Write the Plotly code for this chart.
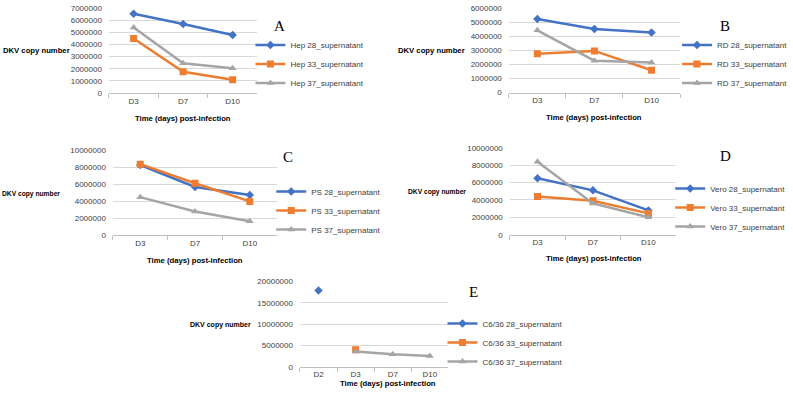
import plotly.graph_objects as go

W, H = 793, 402

# ---------------- data ----------------
days3 = ["D3", "D7", "D10"]
days4 = ["D2", "D3", "D7", "D10"]

hep28 = [6550000, 5700000, 4780000]
hep33 = [4500000, 1750000, 1100000]
hep37 = [5400000, 2450000, 2050000]

rd28 = [5250000, 4550000, 4300000]
rd33 = [2780000, 2980000, 1600000]
rd37 = [4450000, 2280000, 2150000]

ps28 = [8300000, 5700000, 4750000]
ps33 = [8400000, 6150000, 4000000]
ps37 = [4500000, 2800000, 1650000]

vero28 = [6500000, 5100000, 2800000]
vero33 = [4400000, 3900000, 2450000]
vero37 = [8400000, 3600000, 2000000]

c636_28 = [17900000, None, None, None]
c636_33 = [None, 4000000, None, None]
c636_37 = [None, 3600000, 2900000, 2500000]

panels = [
    dict(name="A", cats=days3, series=[("Hep 28_supernatant", hep28), ("Hep 33_supernatant", hep33), ("Hep 37_supernatant", hep37)],
         ymax=7000000, dtick=1000000),
    dict(name="B", cats=days3, series=[("RD 28_supernatant", rd28), ("RD 33_supernatant", rd33), ("RD 37_supernatant", rd37)],
         ymax=6000000, dtick=1000000),
    dict(name="C", cats=days3, series=[("PS 28_supernatant", ps28), ("PS 33_supernatant", ps33), ("PS 37_supernatant", ps37)],
         ymax=10000000, dtick=2000000),
    dict(name="D", cats=days3, series=[("Vero 28_supernatant", vero28), ("Vero 33_supernatant", vero33), ("Vero 37_supernatant", vero37)],
         ymax=10000000, dtick=2000000),
    dict(name="E", cats=days4, series=[("C6/36 28_supernatant", c636_28), ("C6/36 33_supernatant", c636_33), ("C6/36 37_supernatant", c636_37)],
         ymax=20000000, dtick=5000000),
]

# ---------------- layout geometry (pixels) ----------------
# plot boxes: left, right, top, bottom
boxes = [(110, 260, 4.3, 91), (514, 687, 4.7, 90.7), (114, 280, 150, 236.5), (515, 683, 147, 236), (303, 453, 284, 371)]
ylab = [(1, 48, 7.7), (400, 48, 7.7), (0, 194, 6.7), (410, 192, 6.7), (190, 328, 7.0)]
xtitle = [(185, 117), (600, 116), (197, 262), (600, 260), (392, 388)]
letters = [(282, 23), (732, 23), (291, 157), (733, 155), (478, 295)]
legpos = [(253, 27), (684, 27), (274, 177), (677, 174), (447, 312)]

colors = ["#4472C4", "#ED7D31", "#A5A5A5"]
symbols = ["diamond", "square", "triangle-up"]
msizes = [6.5, 7, 7]

FONT = "Liberation Sans, Arial, sans-serif"
SERIF = "Liberation Serif, Times New Roman, serif"

def px(x):
    return x / W

def py(y):
    return 1 - y / H

fig = go.Figure()
layout = dict(
    width=W, height=H, margin=dict(l=0, r=0, t=0, b=0),
    paper_bgcolor="white", plot_bgcolor="white",
    font=dict(family=FONT, size=8, color="#404040"),
    annotations=[],
)

for i, p in enumerate(panels):
    n = i + 1
    xa = "x" if n == 1 else f"x{n}"
    ya = "y" if n == 1 else f"y{n}"
    lg = "legend" if n == 1 else f"legend{n}"
    for j, (nm, vals) in enumerate(p["series"]):
        fig.add_trace(go.Scatter(
            x=p["cats"], y=vals, name=nm, mode="lines+markers",
            line=dict(color=colors[j], width=2.5),
            marker=dict(symbol=symbols[j], size=msizes[j], color=colors[j]),
            xaxis=xa, yaxis=ya, legend=lg, showlegend=True,
        ))
    l, r, t, b = boxes[i]
    layout[f"xaxis{n if n > 1 else ''}"] = dict(
        domain=[px(l), px(r)], anchor=ya, type="category",
        categoryorder="array", categoryarray=p["cats"],
        range=[-0.5, len(p["cats"]) - 0.5],
        showgrid=False, showline=True, linecolor="#BFBFBF", linewidth=1,
        ticks="outside", tickson="boundaries", ticklen=4, tickcolor="#BFBFBF",
        tickfont=dict(size=8, color="#404040"), zeroline=False, fixedrange=True,
    )
    layout[f"yaxis{n if n > 1 else ''}"] = dict(
        domain=[py(b), py(t)], anchor=xa, range=[0, p["ymax"]], dtick=p["dtick"],
        tickformat="d", showgrid=True, gridcolor="#D9D9D9", gridwidth=1,
        showline=False, zeroline=False, ticks="", ticklabelstandoff=6,
        tickfont=dict(size=8, color="#404040"), fixedrange=True,
    )
    lx, lyy = legpos[i]
    layout[lg] = dict(
        x=px(lx), y=py(lyy), xanchor="left", yanchor="top",
        bgcolor="rgba(0,0,0,0)", font=dict(size=8, color="#404040", family=FONT),
        tracegroupgap=0, itemwidth=30,
    )
    ax_, ay_, fs = ylab[i]
    layout["annotations"].append(dict(
        text="<b>DKV copy number</b>", x=px(ax_), y=py(ay_), xref="paper", yref="paper",
        xanchor="left", yanchor="middle", showarrow=False,
        font=dict(size=fs, color="#000000", family=FONT),
    ))
    tx, ty = xtitle[i]
    layout["annotations"].append(dict(
        text="<b>Time (days) post-infection</b>", x=px(tx), y=py(ty), xref="paper", yref="paper",
        xanchor="center", yanchor="middle", showarrow=False,
        font=dict(size=7.7, color="#000000", family=FONT),
    ))
    cx, cy = letters[i]
    layout["annotations"].append(dict(
        text=p["name"], x=px(cx), y=py(cy), xref="paper", yref="paper",
        xanchor="center", yanchor="middle", showarrow=False,
        font=dict(size=15, color="#000000", family=SERIF),
    ))

fig.update_layout(**layout)
fig.write_html(
    "out.html",
    config={"displayModeBar": False},
    post_script="document.body.style.margin='0';document.body.style.overflow='hidden';",
)
